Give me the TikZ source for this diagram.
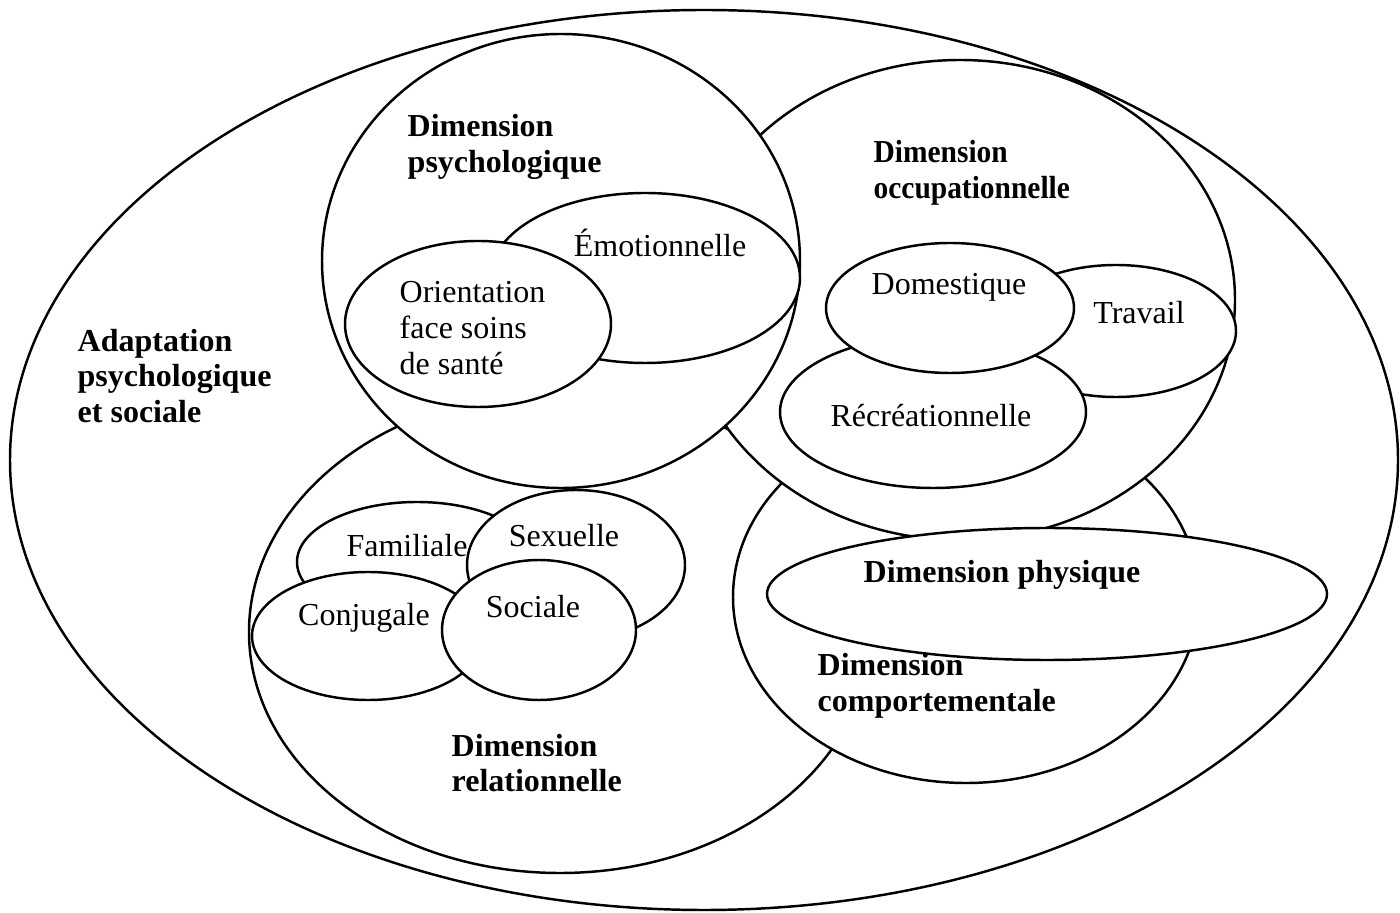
\documentclass[tikz,border=0pt]{standalone}
\usepackage{fontspec}
\setmainfont{Liberation Serif}
\usepackage{tikz}

\tikzset{
    zone/.style={draw,fill=white,line width=0.7pt},
    titre/.style={font=\fontsize{9.1}{10.2}\selectfont\bfseries,align=left,anchor=west,inner sep=0pt},
    etiq/.style={font=\fontsize{9.1}{10.2}\selectfont,align=left,inner sep=0pt}
}

\begin{document}
\begin{tikzpicture}[x=0.01cm,y=-0.01cm]
    \useasboundingbox (0,0) rectangle (1400,913);
    \filldraw[zone] (704,460) ellipse [x radius=694, y radius=450];
    \filldraw[zone] (560,632) ellipse [x radius=311, y radius=241];
    \filldraw[zone] (966,597) ellipse [x radius=233, y radius=186];
    \filldraw[zone] (960,300) ellipse [x radius=275, y radius=240];
    \filldraw[zone] (561,261) ellipse [x radius=239, y radius=227];
    \filldraw[zone] (1047,594) ellipse [x radius=280, y radius=66];
    \filldraw[zone] (645,278) ellipse [x radius=155, y radius=85];
    \filldraw[zone] (478,324) ellipse [x radius=133, y radius=83];
    \filldraw[zone] (1116,331) ellipse [x radius=120, y radius=66];
    \filldraw[zone] (933,412) ellipse [x radius=153, y radius=76];
    \filldraw[zone] (950,308) ellipse [x radius=124, y radius=65];
    \filldraw[zone] (417,562) ellipse [x radius=120, y radius=60];
    \filldraw[zone] (576,565) ellipse [x radius=109, y radius=75];
    \filldraw[zone] (368,636) ellipse [x radius=116, y radius=64];
    \filldraw[zone] (539,630) ellipse [x radius=97, y radius=70];

    \node[titre] (adapt) at (77,376) {Adaptation\\psychologique\\et sociale};
    \node[titre] (psy) at (407,147) {Dimension\\psychologique};
    \node[titre,xscale=0.92,transform shape] (occ) at (873,173) {Dimension\\occupationnelle};
    \node[titre] (rel) at (451,763) {Dimension\\relationnelle};
    \node[titre] (comp) at (817,686) {Dimension\\comportementale};
    \node[titre,anchor=center] (phys) at (1002,575) {Dimension physique};

    \node[etiq] (emo) at (660,243) {Émotionnelle};
    \node[etiq,anchor=west] (orient) at (399,328) {Orientation\\face soins\\de santé};
    \node[etiq] (dom) at (949,287) {Domestique};
    \node[etiq] (trav) at (1139,313) {Travail};
    \node[etiq] (recr) at (931,416) {Récréationnelle};
    \node[etiq] (fam) at (407,546) {Familiale};
    \node[etiq] (sex) at (564,536) {Sexuelle};
    \node[etiq] (conj) at (364,618) {Conjugale};
    \node[etiq] (soc) at (533,607) {Sociale};
\end{tikzpicture}
\end{document}
